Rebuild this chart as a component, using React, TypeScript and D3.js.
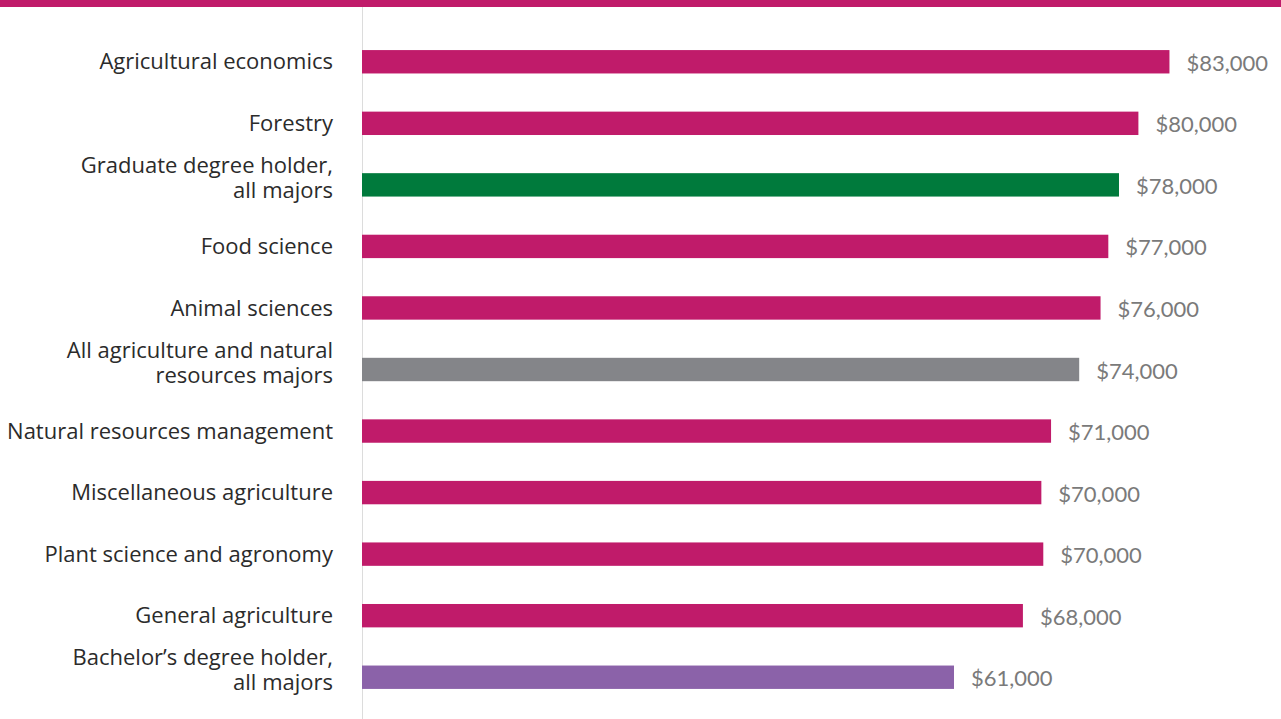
import React from "react";
import * as d3 from "d3";

// median earnings by major (USD), top to bottom as shown
const majors = [
  ["Agricultural economics"],
  ["Forestry"],
  ["Graduate degree holder,", "all majors"],
  ["Food science"],
  ["Animal sciences"],
  ["All agriculture and natural", "resources majors"],
  ["Natural resources management"],
  ["Miscellaneous agriculture"],
  ["Plant science and agronomy"],
  ["General agriculture"],
  ["Bachelor\u2019s degree holder,", "all majors"],
];

const earnings = [83200, 80000, 78000, 76900, 76100, 73900, 71000, 70000, 70200, 68100, 61000];

const groups = ["major", "major", "grad", "major", "major", "all", "major", "major", "major", "major", "bach"];

const colors: Record<string, string> = {
  major: "#c01b6a",
  grad: "#007a3c",
  all: "#848589",
  bach: "#8b62a9",
};

const W = 1281;
const H = 719;
const axisX = 362;

const fmt = (v: number) => "$" + d3.format(",")(Math.round(v / 1000) * 1000);

export default function App() {
  const ids = majors.map((_, i) => String(i));
  const y = d3.scaleBand().domain(ids).range([31, 708]).paddingInner(0.62).paddingOuter(0.31);
  const x = d3.scaleLinear().domain([0, 85000]).range([axisX, axisX + 85 * 9.705]);

  return (
    <svg
      width={W}
      height={H}
      style={{ position: "absolute", left: 0, top: 0, display: "block", background: "#fff" }}
    >
      <rect x={0} y={0} width={W} height={7} fill={colors.major} />
      <line x1={axisX + 0.5} x2={axisX + 0.5} y1={7} y2={H} stroke="#dcdcdc" strokeWidth={1} />
      {ids.map((id, i) => {
        const y0 = y(id)!;
        const cy = y0 + y.bandwidth() / 2;
        const lines = majors[i];
        const first = lines.length === 1 ? cy + 7.6 : cy - 12;
        return (
          <g key={id}>
            <rect
              x={x(0)}
              y={y0}
              width={x(earnings[i]) - x(0)}
              height={y.bandwidth()}
              fill={colors[groups[i]]}
            />
            {lines.map((t, j) => (
              <text
                key={j}
                x={333}
                y={first + j * 25}
                textAnchor="end"
                fontSize={22}
                fontFamily="'Open Sans', sans-serif"
                fill="#2b2b2b"
              >
                {t}
              </text>
            ))}
            <text
              x={x(earnings[i]) + 17}
              y={cy + 9}
              fontSize={22}
              fontFamily="Lato, sans-serif"
              fill="#7a7a7a"
            >
              {fmt(earnings[i])}
            </text>
          </g>
        );
      })}
    </svg>
  );
}
